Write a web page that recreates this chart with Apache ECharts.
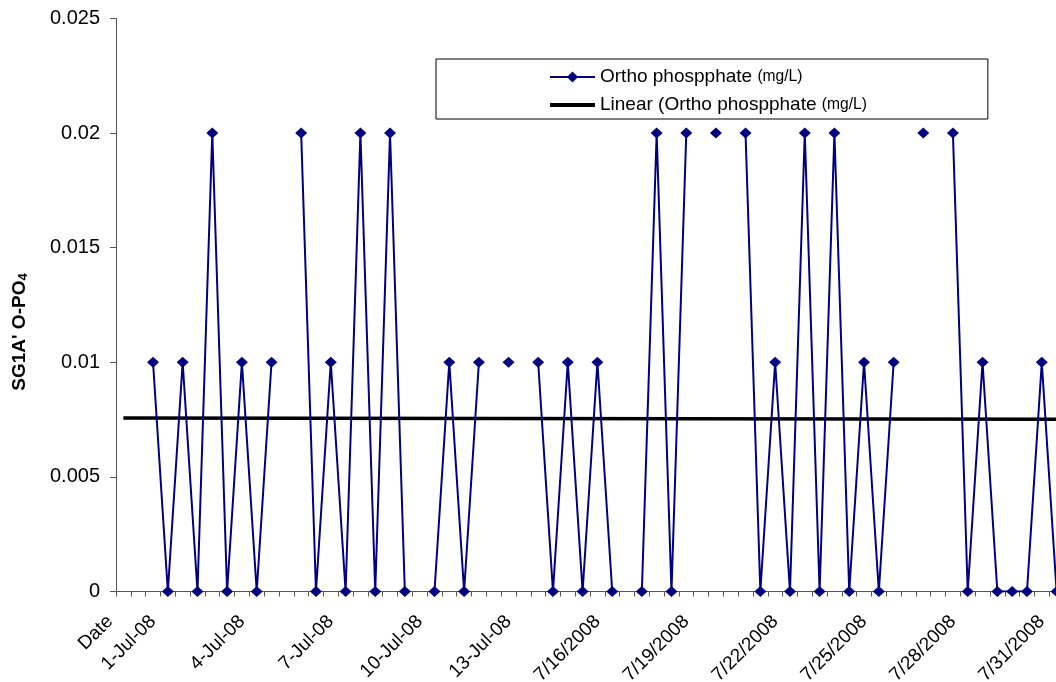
<!DOCTYPE html>
<html>
<head>
<meta charset="utf-8">
<script src="https://cdn.jsdelivr.net/npm/echarts@6/dist/echarts.min.js"></script>
<style>
html,body{margin:0;padding:0;background:#fff;overflow:hidden;}
#chart{width:1064px;height:682px;}
</style>
</head>
<body>
<div id="chart"></div>
<script>
// Category labels: header cell, an empty cell, then two readings per day in July 2008
var leadCategories = ['Date', ' '];
var dayLabels = ['1-Jul-08','2-Jul-08','3-Jul-08','4-Jul-08','5-Jul-08','6-Jul-08','7-Jul-08','8-Jul-08',
  '9-Jul-08','10-Jul-08','11-Jul-08','12-Jul-08','13-Jul-08','7/14/2008','7/15/2008','7/16/2008',
  '7/17/2008','7/18/2008','7/19/2008','7/20/2008','7/21/2008','7/22/2008','7/23/2008','7/24/2008',
  '7/25/2008','7/26/2008','7/27/2008','7/28/2008','7/29/2008','7/30/2008','7/31/2008'];
var halfDaySuffix = ['', ' 12:00'];

// Ortho phosphate readings (mg/L), two per day, null = no reading
var orthoValues = [
  0.01, 0, 0.01, 0, 0.02, 0, 0.01, 0, 0.01, null,
  0.02, 0, 0.01, 0, 0.02, 0, 0.02, 0, null, 0,
  0.01, 0, 0.01, null, 0.01, null, 0.01, 0, 0.01, 0,
  0.01, 0, null, 0, 0.02, 0, 0.02, null, 0.02, null,
  0.02, 0, 0.01, 0, 0.02, 0, 0.02, 0, 0.01, 0,
  0.01, null, 0.02, null, 0.02, 0, 0.01, 0, 0, 0,
  0.01, 0
];
// Linear trend line end values
var trendStart = 0.00757;
var trendEnd = 0.00752;

var yTicks = { min: 0, max: 0.025, interval: 0.005 };

var categories = leadCategories.slice();
dayLabels.forEach(function (d) { halfDaySuffix.forEach(function (s) { categories.push(d + s); }); });
var seriesData = leadCategories.map(function () { return null; }).concat(orthoValues);
var trendData = categories.map(function (c, i) {
  if (i === 0) return trendStart;
  if (i === categories.length - 1) return trendEnd;
  return null;
});

var FONT = 'Liberation Sans, Arial, sans-serif';
var chart = echarts.init(document.getElementById('chart'), null, { renderer: 'canvas' });
chart.setOption({
  backgroundColor: '#ffffff',
  animation: false,
  grid: { left: 116, right: 0, top: 18.5, bottom: 90.5, containLabel: false, outerBoundsMode: 'none' },
  legend: {
    orient: 'vertical',
    left: 436, top: 59,
    padding: [7, 121, 3, 113],
    borderColor: '#000', borderWidth: 1,
    itemWidth: 45, itemHeight: 14, itemGap: 6,
    selectedMode: false,
    textStyle: { fontFamily: FONT, fontSize: 19, lineHeight: 22, color: '#000',
      rich: { s: { fontFamily: FONT, fontSize: 15.6, lineHeight: 22, color: '#000' } } },
    formatter: function (name) {
      return name.replace('(mg/L)', '{s|(mg/L)}');
    },
    data: [
      { name: 'Ortho phospphate (mg/L)' },
      { name: 'Linear (Ortho phospphate (mg/L)', icon: 'path://M0,0H45V4H0Z' }
    ]
  },
  xAxis: {
    type: 'category',
    data: categories,
    boundaryGap: true,
    axisLine: { show: true, lineStyle: { color: '#555', width: 1 } },
    axisTick: { show: true, interval: 0, length: 5, lineStyle: { color: '#555' } },
    axisLabel: {
      interval: function (i) { return i === 0 || (i >= 2 && (i - 2) % 6 === 0); },
      rotate: 45, margin: 27,
      fontFamily: FONT, fontSize: 19, color: '#000',
      formatter: function (v, i) { return i === 0 ? '{d|' + v + '}' : v.replace(' 12:00', ''); },
      rich: { d: { fontFamily: FONT, fontSize: 19, color: '#000', padding: [0, 9.5, 19, 0] } }
    },
    splitLine: { show: false }
  },
  yAxis: {
    type: 'value',
    min: yTicks.min, max: yTicks.max, interval: yTicks.interval,
    name: "SG1A' O-PO{sub|4}",
    nameLocation: 'middle', nameRotate: 90, nameGap: 86,
    nameTextStyle: { fontFamily: FONT, fontSize: 19, fontWeight: 'bold', color: '#000', padding: [0, 54, 0, 0],
      rich: { sub: { fontFamily: FONT, fontSize: 13, fontWeight: 'bold', color: '#000', verticalAlign: 'bottom', padding: [8, 0, 0, 0] } } },
    axisLine: { show: true, lineStyle: { color: '#555', width: 1 } },
    axisTick: { show: true, length: 6, lineStyle: { color: '#555' } },
    axisLabel: { fontFamily: FONT, fontSize: 20, color: '#000', margin: 16 },
    splitLine: { show: false }
  },
  series: [
    {
      name: 'Ortho phospphate (mg/L)',
      type: 'line',
      data: seriesData,
      connectNulls: false,
      symbol: 'diamond', symbolSize: [12, 11], showAllSymbol: true,
      lineStyle: { color: '#000080', width: 2 },
      itemStyle: { color: '#000080' },
      z: 3
    },
    {
      name: 'Linear (Ortho phospphate (mg/L)',
      type: 'line',
      data: trendData,
      connectNulls: true,
      symbol: 'none',
      lineStyle: { color: '#000', width: 3.5 },
      itemStyle: { color: '#000' },
      z: 2
    }
  ]
});
</script>
</body>
</html>
